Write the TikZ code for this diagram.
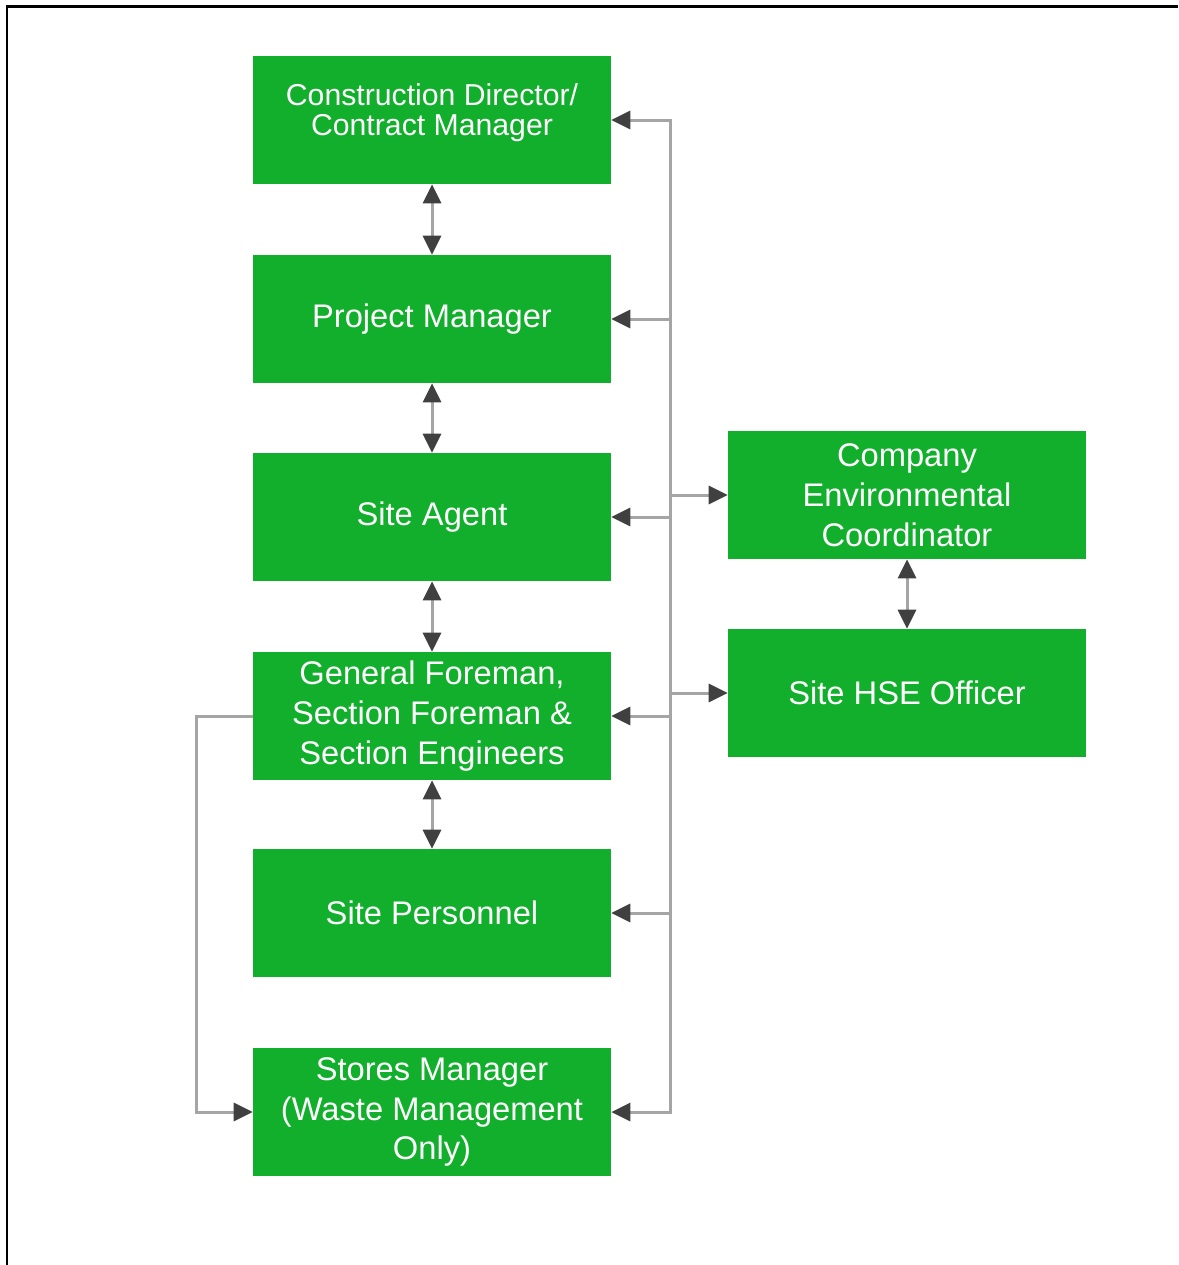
\documentclass[tikz,border=0pt]{standalone}
\usepackage{fontspec}
\setmainfont{Liberation Sans}
\usetikzlibrary{arrows.meta}
\definecolor{boxgreen}{RGB}{17,175,43}
\definecolor{linegrey}{RGB}{165,165,165}
\definecolor{tipgrey}{RGB}{64,64,64}
\tikzset{
  box/.style={fill=boxgreen, text=white, minimum width=7.16cm, minimum height=2.56cm,
              align=center, inner sep=0pt, font=\fontsize{18.6pt}{22.7pt}\selectfont},
  link/.style={draw=linegrey, line width=0.06cm},
  tip/.tip={Triangle[length=0.38cm, width=0.36cm, color=tipgrey]},
  arr/.style={link, -tip},
  darr/.style={link, tip-tip},
}

\begin{document}
\begin{tikzpicture}[x=0.02cm, y=-0.02cm]
  \useasboundingbox (0,0) rectangle (1178,1265);
  % Frame
  \draw[line width=0.06cm] (7,1265) -- (7,6) -- (1178,6);
  % Left column
  \node[box, font=\fontsize{17.2pt}{17pt}\selectfont, text depth=0.42cm] (cdir) at (432,120)
    {Construction Director/\\Contract Manager};
  \node[box] (pm) at (432,319) {Project Manager};
  \node[box] (agent) at (432,517) {Site Agent};
  \node[box] (foreman) at (432,716) {General Foreman,\\Section Foreman \&\\Section Engineers};
  \node[box] (staff) at (432,913) {Site Personnel};
  \node[box] (stores) at (432,1112) {Stores Manager\\(Waste Management\\Only)};
  % Right column
  \node[box] (envco) at (907,495) {Company\\Environmental\\Coordinator};
  \node[box] (hse) at (907,693) {Site HSE Officer};
  % Chain of command
  \foreach \a/\b in {cdir/pm, pm/agent, agent/foreman, foreman/staff}
    \draw[darr] (\a.south) -- (\b.north);
  \draw[darr] (envco.south) -- (hse.north);
  % Bus
  \coordinate (bus) at (670,0);
  \draw[link, line cap=rect] (cdir.east -| bus) -- (stores.east -| bus);
  \foreach \n in {cdir, pm, agent, foreman, staff, stores}
    \draw[arr] (\n.east -| bus) -- (\n.east);
  \foreach \n in {envco, hse}
    \draw[arr] (\n.west -| bus) -- (\n.west);
  % Stores loop
  \draw[arr] (foreman.west) -- ++(-56,0) |- (stores.west);
\end{tikzpicture}
\end{document}
